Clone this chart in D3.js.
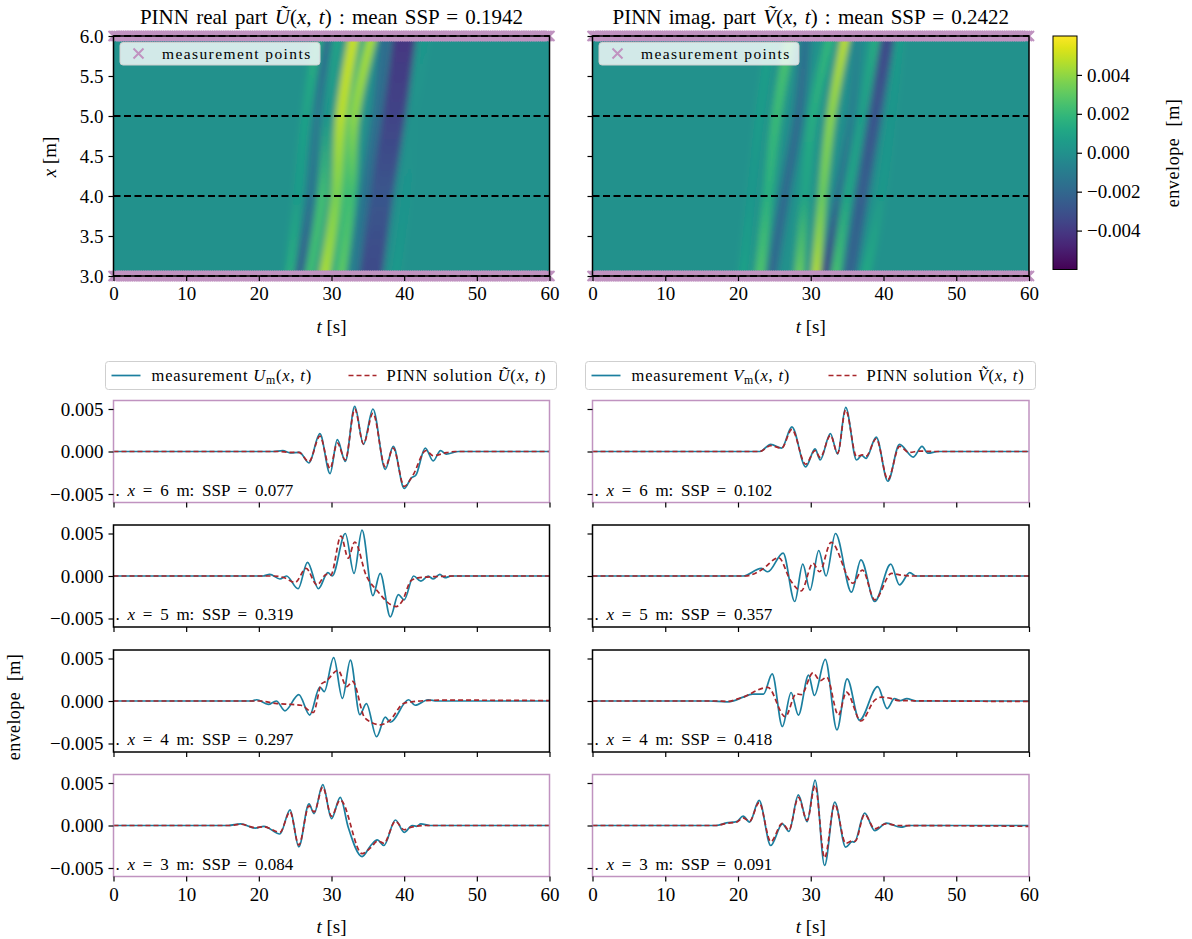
<!DOCTYPE html>
<html>
<head>
<meta charset="utf-8">
<script src="https://cdn.jsdelivr.net/npm/d3@7"></script>
<style>
  body { margin: 0; background: #fff; }
</style>
</head>
<body>
<svg id="chart" width="1192" height="939"></svg>
<script>
// ---- data (envelope values in mm, i.e. 1e-3 m) ----
const tTicks = [0, 10, 20, 30, 40, 50, 60];
const xTicks = [3.0, 3.5, 4.0, 4.5, 5.0, 5.5, 6.0];
const envTicks = [-0.005, 0, 0.005];
const barTicks = [-0.004, -0.002, 0, 0.002, 0.004];
const measPositions = [6, 5, 4, 3];
const markedPositions = [6, 3];
const sspU = ["0.077", "0.319", "0.297", "0.084"];
const sspV = ["0.102", "0.357", "0.418", "0.091"];
const meanSspU = "0.1942";
const meanSspV = "0.2422";

// series: [t (s), envelope (mm)] at peaks / troughs
const measU6 = [[0,0],[22.0,0],[23.3,0.1],[24.3,-0.15],[25.6,-0.1],[26.9,-1.35],[28.4,2.1],[29.8,-2.6],[30.8,1.4],[31.9,-1.15],[33.2,5.3],[34.4,0.85],[35.7,5.0],[37.4,-2.1],[38.5,0.6],[40.0,-4.35],[41.0,-3.1],[41.6,-2.8],[42.9,0.4],[44.0,-1.1],[45.0,0.1],[45.8,-0.3],[47.5,0],[60,0]];
const pinnU6 = [[0,0],[22.5,0],[24.5,-0.1],[25.5,-0.1],[26.9,-1.2],[28.4,1.8],[29.8,-2.0],[30.8,1.0],[31.9,-1.0],[33.2,5.0],[34.4,0.9],[35.7,4.5],[37.4,-1.8],[38.5,0.4],[40.0,-4.1],[41.2,-2.8],[43.0,0.1],[44.0,-0.5],[45.5,-0.2],[47,0],[60,0]];
const measU5 = [[0,0],[20.6,0],[21.5,0.2],[22.9,-0.35],[23.8,0],[25.4,-1.5],[26.7,1.6],[28.2,-1.5],[29.5,0.4],[30.1,0.0],[31.9,5.0],[33.1,0.3],[34.2,5.4],[35.7,-2.3],[36.7,0.3],[38.1,-4.8],[39.2,-2.2],[40.0,-2.8],[41.3,0],[42.3,-0.6],[43.3,0],[44.0,-0.35],[44.9,0.2],[45.6,-0.2],[46.5,0],[60,0]];
const pinnU5 = [[0,0],[22,0],[23.5,-0.2],[25.0,-0.75],[26.5,0.9],[28.0,-1.05],[29.3,0.2],[29.9,0.1],[31.3,4.7],[32.3,2.1],[33.2,4.0],[34.8,0.0],[36.2,-1.65],[38.9,-3.6],[39.7,-3.0],[41.0,-0.5],[42.5,-0.15],[45,-0.05],[47,0],[60,0]];
const measU4 = [[0,0],[19.0,0],[19.7,0.15],[21.3,-0.4],[22.4,0],[23.6,-1.15],[25.5,0.75],[27.0,-1.65],[28.4,1.65],[29.0,1.1],[30.3,5.1],[31.5,0.3],[32.6,4.8],[33.9,-1.6],[34.8,-0.3],[36.2,-4.2],[37.4,-1.9],[38.1,-2.5],[40.6,0.15],[41.5,-0.5],[43.3,0.15],[44.5,0],[60,0]];
const pinnU4 = [[0,0],[20,0],[22.5,-0.3],[24.5,-0.4],[25.8,-0.5],[27.5,-1.35],[28.6,2.0],[29.2,2.3],[30.9,3.6],[32.1,1.7],[32.9,2.3],[34.6,-2.0],[36.7,-2.8],[38.0,-2.3],[39.9,-0.3],[41,-0.1],[45,0.1],[60,0.05]];
const measU3 = [[0,0],[15.8,0],[17.5,0.2],[19.5,-0.3],[20.7,-0.1],[22.9,-1.0],[24.3,1.85],[25.5,-2.5],[26.9,2.55],[27.6,1.4],[28.8,4.8],[30.0,0.8],[31.2,3.3],[32.3,-0.2],[34.2,-3.65],[35.4,-2.35],[36.3,-1.7],[37.2,-2.35],[38.8,0.65],[40.0,-0.8],[41.1,0],[41.7,-0.1],[42.3,0.2],[43.5,0],[60,0]];
const pinnU3 = [[0,0],[16,0],[17.5,0.15],[19.5,-0.25],[20.7,-0.15],[22.9,-0.8],[24.3,1.6],[25.5,-2.3],[26.9,2.3],[27.6,1.6],[28.8,4.5],[30.0,1.1],[31.2,3.0],[34.2,-3.3],[35.4,-2.6],[36.4,-1.8],[37.2,-2.1],[38.8,0.5],[40.0,-0.5],[41,-0.2],[43,0],[60,0]];

const measV6 = [[0,0],[23.0,0],[24.5,0.85],[26.0,0.4],[27.4,2.9],[29.3,-1.8],[30.6,0.3],[31.3,-1.0],[32.7,2.1],[33.7,-0.3],[34.8,5.2],[36.3,-1.0],[37.0,-0.45],[37.6,-0.8],[39.0,1.7],[40.6,-3.5],[42.2,0.85],[44.1,-0.65],[45.3,0.6],[46.1,-0.2],[47.5,0],[60,0]];
const pinnV6 = [[0,0],[23.0,0],[24.5,0.7],[26.0,0.4],[27.4,2.6],[29.3,-1.5],[30.6,0.1],[31.3,-0.7],[32.7,1.9],[33.7,-0.2],[34.8,4.9],[36.3,-0.6],[37.1,-0.4],[37.6,-0.55],[39.0,1.5],[40.6,-3.3],[42.2,0.6],[43.5,-0.1],[45,0.05],[47,0],[60,0]];
const measV5 = [[0,0],[20.7,0],[23.2,0.9],[24.1,0.5],[26.2,2.7],[27.8,-3.0],[28.9,1.4],[29.9,-1.65],[31.1,3.0],[32.1,0],[33.4,5.0],[35.6,-1.9],[36.9,1.9],[38.8,-3.0],[41.0,1.4],[42.2,-1.05],[43.6,0.4],[44.5,0],[60,0]];
const pinnV5 = [[0,0],[21,0],[23.2,0.7],[25.6,2.15],[27.2,-0.5],[28.7,-1.75],[30.3,1.5],[31.2,0.5],[32.8,3.95],[35.8,-0.85],[37.1,0.7],[38.8,-2.8],[41.1,0.3],[42.5,0.1],[44,0],[60,0]];
const measV4 = [[0,0],[16,0],[18.5,-0.1],[19.5,0.05],[20.7,0.45],[22.0,0.8],[23.5,0.8],[24.7,3.2],[26.1,-3.0],[27.3,1.0],[28.3,-1.65],[29.7,3.05],[30.5,0.65],[32.0,4.9],[33.6,-3.4],[35.0,2.6],[36.7,-2.25],[39.2,1.7],[40.5,-0.9],[41.5,0.27],[42.3,0.05],[43.2,0.27],[44.5,0],[60,0]];
const pinnV4 = [[0,0],[17,0],[18.5,-0.05],[20.5,0.4],[24.1,1.6],[26.5,-1.85],[28.0,0.85],[28.7,0.75],[30.3,3.3],[31.3,2.4],[32.2,2.8],[33.8,-1.65],[34.9,1.05],[36.9,-2.35],[38.8,0.1],[39.7,0.45],[41,0.3],[42,0.05],[60,-0.05]];
const measV3 = [[0,0],[17.0,0],[18.4,0.3],[19.8,0.45],[20.7,1.1],[21.6,0.4],[22.9,2.95],[24.5,-2.35],[26.1,0.2],[27.0,-0.7],[28.3,3.6],[29.5,0.45],[30.6,5.35],[31.9,-4.7],[33.3,2.75],[34.8,-2.55],[35.7,-1.9],[36.0,-1.95],[37.4,1.45],[38.8,-0.6],[40.4,0.27],[42.4,-0.2],[43.5,0],[60,0]];
const pinnV3 = [[0,0],[17,0],[18.4,0.25],[19.8,0.4],[20.7,0.9],[21.6,0.5],[22.9,2.7],[24.5,-1.9],[26.1,0.25],[27.0,-0.55],[28.3,3.3],[29.5,0.6],[30.6,4.7],[31.9,-3.8],[33.3,2.5],[34.8,-2.1],[35.8,-1.8],[36.1,-1.85],[37.4,1.3],[38.8,-0.4],[40.3,0.2],[42,0],[55,-0.05],[60,-0.1]];

// heat-map ridges: time of the ridge at x = 3, 4, 5, 6 m, its value there (mm) and its width (s)
const ridgeRows = [3, 4, 5, 6];
const ridgeTimesU = [[24.3,25.4,26.5,28.2],[25.6,27.2,28.1,29.8],[26.9,28.7,29.4,30.8],[30.0,31.6,32.3,34.4],[29.0,30.6,31.3,33.1],[31.3,32.7,33.2,35.6],[33.0,34.6,36.2,37.4],[35.4,36.9,38.6,40.0],[38.8,40.3,41.3,42.9]];
const ridgeValsU = [[1.6,0.6,0.9,1.6],[-2.3,-1.35,-1.05,-2.0],[2.3,2.4,0.3,1.0],[1.1,2.0,2.1,0.9],[4.5,3.6,4.7,5.0],[3.0,2.3,4.0,4.5],[-1.0,-1.5,-1.65,-1.8],[-3.3,-2.8,-3.6,-4.1],[0.5,0.2,0.1,0.4]];
const ridgeWidthsU = [1.3,1.5,1.3,1.2,1.5,1.3,1.5,3.2,1.3];
const ridgeTimesV = [[20.7,21.8,23.0,24.5],[23.0,24.1,25.3,27.2],[24.6,26.4,28.3,29.3],[28.4,29.2,30.3,32.7],[30.7,31.6,32.8,34.8],[32.0,33.8,35.6,36.5],[33.4,35.0,37.1,39.0],[35.3,37.0,38.8,40.6],[37.5,39.7,41.1,42.2]];
const ridgeValsV = [[0.9,0.4,0.6,0.8],[2.7,1.6,2.15,2.6],[-1.9,-1.85,-1.75,-1.5],[3.3,1.0,1.5,1.9],[4.7,3.3,3.95,4.9],[-3.8,-1.65,-0.85,-0.6],[2.5,1.05,0.7,1.5],[-2.1,-2.35,-2.8,-3.3],[1.3,0.45,0.3,0.6]];
const ridgeWidthsV = [1.3,1.4,1.5,1.3,1.2,1.2,1.3,1.9,1.3];

// ---- layout ----
const FONT = "'Liberation Serif', 'DejaVu Serif', serif";
const colL = [113.5, 549.5];
const colR = [592.5, 1029];
const heatY = [276, 36];
const rowTops = [400.5, 525, 650, 774.5];
const rowH = 102;
const purple = "#c093c0";
const teal = "#1b7f9f";
const red = "#a8262b";
const TICK = 19;

const svg = d3.select("#chart");
const defs = svg.append("defs");
const color = d3.scaleSequential(d3.interpolateViridis).domain([-0.006, 0.006]);

defs.append("filter").attr("id", "soft")
  .attr("x", "-5%").attr("y", "-5%").attr("width", "110%").attr("height", "110%")
  .append("feGaussianBlur").attr("stdDeviation", 3.3);

// writes a mix of upright / italic / subscript pieces into a text element
const rich = (text, parts) => {
  parts.forEach(([s, st]) => {
    const sp = text.append("tspan").text(s);
    if (st === "i") sp.attr("font-style", "italic");
    if (st === "sub") sp.attr("font-size", "0.72em").attr("dy", 3);
    if (st === "up") sp.attr("dy", -3);
  });
  return text;
};

const styleAxis = (a, size) => {
  a.attr("font-family", null).attr("font-size", null);
  a.select(".domain").remove();
  a.selectAll(".tick line").attr("stroke-width", 1.2);
  a.selectAll("text").style("font-family", FONT).style("font-size", size + "px");
};

// ---- heat maps ----
const heatmap = (id, range, times, vals, widths, titleParts, showY) => {
  const xs = d3.scaleLinear().domain([0, 60]).range(range);
  const ys = d3.scaleLinear().domain([3, 6]).range(heatY);
  const g = svg.append("g");

  defs.append("clipPath").attr("id", "clip-" + id).append("rect")
    .attr("x", range[0]).attr("y", heatY[1])
    .attr("width", range[1] - range[0]).attr("height", heatY[0] - heatY[1]);

  const field = g.append("g").attr("clip-path", `url(#clip-${id})`)
    .append("g").attr("filter", "url(#soft)");
  field.append("rect")
    .attr("x", range[0] - 20).attr("y", heatY[1] - 20)
    .attr("width", range[1] - range[0] + 40).attr("height", heatY[0] - heatY[1] + 40)
    .attr("fill", color(0));

  const ridgeLine = d3.line().x((d) => xs(d[0])).y((d) => ys(d[1])).curve(d3.curveCatmullRom);
  times.forEach((tt, i) => {
    const gid = `grad-${id}-${i}`;
    defs.append("linearGradient").attr("id", gid)
      .attr("gradientUnits", "userSpaceOnUse")
      .attr("x1", 0).attr("x2", 0).attr("y1", ys(3)).attr("y2", ys(6))
      .selectAll("stop").data(vals[i]).join("stop")
      .attr("offset", (d, k) => (ridgeRows[k] - 3) / 3)
      .attr("stop-color", (d) => color(d / 1000));
    field.append("path")
      .datum(tt.map((t, k) => [t, ridgeRows[k]]))
      .attr("d", ridgeLine)
      .attr("fill", "none")
      .attr("stroke", `url(#${gid})`)
      .attr("stroke-width", widths[i] * (xs(1) - xs(0)))
      .attr("stroke-linecap", "square");
  });

  // measurement point markers
  const markT = d3.range(0, 60.001, 0.25);
  const marks = g.append("g").attr("stroke", purple).attr("stroke-width", 2);
  markedPositions.forEach((x0) => {
    marks.selectAll(null).data(markT).join("path")
      .attr("d", "M-5,-5L5,5M-5,5L5,-5")
      .attr("transform", (t) => `translate(${xs(t)},${ys(x0)})`);
  });

  g.append("g").selectAll("line").data(measPositions).join("line")
    .attr("x1", range[0]).attr("x2", range[1])
    .attr("y1", (d) => ys(d)).attr("y2", (d) => ys(d))
    .attr("stroke", "#000").attr("stroke-width", 1.8).attr("stroke-dasharray", "7,3.5");

  g.append("rect")
    .attr("x", range[0]).attr("y", heatY[1])
    .attr("width", range[1] - range[0]).attr("height", heatY[0] - heatY[1])
    .attr("fill", "none").attr("stroke", "#000").attr("stroke-width", 1.5);

  g.append("g").attr("transform", `translate(0,${heatY[0]})`)
    .call(d3.axisBottom(xs).tickValues(tTicks).tickSize(5).tickPadding(6).tickFormat(d3.format("d")))
    .call((a) => styleAxis(a, TICK));
  g.append("g").attr("transform", `translate(${range[0]},0)`)
    .call(d3.axisLeft(ys).tickValues(xTicks).tickSize(5).tickPadding(5)
      .tickFormat(showY ? d3.format(".1f") : ""))
    .call((a) => styleAxis(a, TICK));

  rich(g.append("text").attr("x", (range[0] + range[1]) / 2).attr("y", 24)
    .attr("text-anchor", "middle").style("font-family", FONT).style("font-size", "21px")
    .style("word-spacing", "2px"), titleParts);

  rich(g.append("text").attr("x", (range[0] + range[1]) / 2).attr("y", 333)
    .attr("text-anchor", "middle").style("font-family", FONT).style("font-size", "19px"),
    [["t", "i"], [" [s]", ""]]);

  // legend
  const lg = g.append("g").attr("transform", `translate(${range[0] + 6.5},${heatY[1] + 6.5})`);
  lg.append("rect").attr("width", 200).attr("height", 22.5).attr("rx", 3)
    .attr("fill", "rgba(255,255,255,0.8)").attr("stroke", "#cfcfcf");
  lg.append("path").attr("d", "M-5,-5L5,5M-5,5L5,-5")
    .attr("transform", "translate(18.5,11)").attr("stroke", purple).attr("stroke-width", 2);
  lg.append("text").attr("x", 42).attr("y", 16)
    .style("font-family", FONT).style("font-size", "15.5px").style("letter-spacing", "1.4px")
    .text("measurement points");
};

heatmap("u", colL, ridgeTimesU, ridgeValsU, ridgeWidthsU,
  [["PINN real part ", ""], ["Ũ", "i"], ["(", ""], ["x", "i"], [", ", ""], ["t", "i"], [") : mean SSP = " + meanSspU, ""]], true);
heatmap("v", colR, ridgeTimesV, ridgeValsV, ridgeWidthsV,
  [["PINN imag. part ", ""], ["V\u0303", "i"], ["(", ""], ["x", "i"], [", ", ""], ["t", "i"], [") : mean SSP = " + meanSspV, ""]], false);

svg.append("text").attr("transform", "translate(56,157) rotate(-90)")
  .attr("text-anchor", "middle").style("font-family", FONT).style("font-size", "19px")
  .call((t) => rich(t, [["x", "i"], [" [m]", ""]]));

// ---- colour bar ----
const barY = d3.scaleLinear().domain([-0.006, 0.006]).range([269.5, 36]);
const cbGrad = defs.append("linearGradient").attr("id", "cbar")
  .attr("x1", 0).attr("x2", 0).attr("y1", 1).attr("y2", 0);
cbGrad.selectAll("stop").data(d3.range(0, 1.0001, 0.05)).join("stop")
  .attr("offset", (d) => d).attr("stop-color", (d) => d3.interpolateViridis(d));
svg.append("rect").attr("x", 1053).attr("y", 36).attr("width", 24).attr("height", 233.5)
  .attr("fill", "url(#cbar)").attr("stroke", "#000").attr("stroke-width", 1);
svg.append("g").attr("transform", "translate(1077,0)")
  .call(d3.axisRight(barY).tickValues(barTicks).tickSize(5).tickPadding(5).tickFormat(d3.format(".3f")))
  .call((a) => styleAxis(a, TICK));
svg.append("text").attr("transform", "translate(1179,153) rotate(-90)")
  .attr("text-anchor", "middle").style("font-family", FONT).style("font-size", "18px")
  .style("letter-spacing", "0.6px").style("word-spacing", "6px").text("envelope [m]");

// ---- line panels ----
const xL = d3.scaleLinear().domain([0, 60]).range(colL);
const xR = d3.scaleLinear().domain([0, 60]).range(colR);

const panel = (xs, row, meas, pinn, ssp, left) => {
  const top = rowTops[row];
  const ys = d3.scaleLinear().domain([-0.006, 0.006]).range([top + rowH, top]);
  const g = svg.append("g");
  const line = d3.line().x((d) => xs(d[0])).y((d) => ys(d[1] / 1000)).curve(d3.curveMonotoneX);
  const edge = markedPositions.includes(measPositions[row]);

  g.append("path").datum(meas).attr("d", line).attr("fill", "none")
    .attr("stroke", teal).attr("stroke-width", 1.7);
  g.append("path").datum(pinn).attr("d", line).attr("fill", "none")
    .attr("stroke", red).attr("stroke-width", 1.7).attr("stroke-dasharray", "5,3");

  g.append("rect").attr("x", xs.range()[0]).attr("y", top)
    .attr("width", xs.range()[1] - xs.range()[0]).attr("height", rowH)
    .attr("fill", "none").attr("stroke", edge ? purple : "#000").attr("stroke-width", 1.5);

  g.append("g").attr("transform", `translate(0,${top + rowH})`)
    .call(d3.axisBottom(xs).tickValues(tTicks).tickSize(5).tickPadding(6)
      .tickFormat(row === 3 ? d3.format("d") : ""))
    .call((a) => styleAxis(a, TICK));
  g.append("g").attr("transform", `translate(${xs.range()[0]},0)`)
    .call(d3.axisLeft(ys).tickValues(envTicks).tickSize(5).tickPadding(5)
      .tickFormat(left ? d3.format(".3f") : ""))
    .call((a) => styleAxis(a, TICK));

  rich(g.append("text").attr("x", xs.range()[0] + 2).attr("y", top + rowH - 7)
    .style("font-family", FONT).style("font-size", "17px").style("word-spacing", "3.5px"),
    [[". ", ""], ["x", "i"], [` = ${measPositions[row]} m:  SSP = ${ssp}`, ""]]);
};

const seriesU = [[measU6, pinnU6], [measU5, pinnU5], [measU4, pinnU4], [measU3, pinnU3]];
const seriesV = [[measV6, pinnV6], [measV5, pinnV5], [measV4, pinnV4], [measV3, pinnV3]];
seriesU.forEach(([m, p], i) => panel(xL, i, m, p, sspU[i], true));
seriesV.forEach(([m, p], i) => panel(xR, i, m, p, sspV[i], false));

[xL, xR].forEach((xs) => {
  rich(svg.append("text").attr("x", (xs.range()[0] + xs.range()[1]) / 2).attr("y", 933)
    .attr("text-anchor", "middle").style("font-family", FONT).style("font-size", "19px"),
    [["t", "i"], [" [s]", ""]]);
});

svg.append("text").attr("transform", "translate(20,707) rotate(-90)")
  .attr("text-anchor", "middle").style("font-family", FONT).style("font-size", "18px")
  .style("letter-spacing", "0.4px").style("word-spacing", "6px").text("envelope [m]");

// ---- line legends ----
const legend = (x0, w, sym) => {
  const lg = svg.append("g").attr("transform", `translate(${x0},361.5)`);
  lg.append("rect").attr("width", w).attr("height", 28).attr("rx", 3)
    .attr("fill", "#fff").attr("stroke", "#cfcfcf");
  lg.append("line").attr("x1", 6).attr("x2", 35).attr("y1", 14).attr("y2", 14)
    .attr("stroke", teal).attr("stroke-width", 1.7);
  rich(lg.append("text").attr("x", 46).attr("y", 19).style("font-family", FONT)
    .style("font-size", "16.5px").style("letter-spacing", "0.8px"),
    [["measurement ", ""], [sym, "i"], ["m", "sub"], ["(", "up"], ["x", "i"], [", ", ""], ["t", "i"], [")", ""]]);
  lg.append("line").attr("x1", 243).attr("x2", 271).attr("y1", 14).attr("y2", 14)
    .attr("stroke", red).attr("stroke-width", 1.7).attr("stroke-dasharray", "5,3");
  rich(lg.append("text").attr("x", 281).attr("y", 19).style("font-family", FONT)
    .style("font-size", "16.5px").style("letter-spacing", "0.8px"),
    [["PINN solution ", ""], [sym === "U" ? "Ũ" : "V\u0303", "i"], ["(", ""], ["x", "i"], [", ", ""], ["t", "i"], [")", ""]]);
};
legend(105.5, 451, "U");
legend(585.5, 450, "V");
</script>
</body>
</html>
